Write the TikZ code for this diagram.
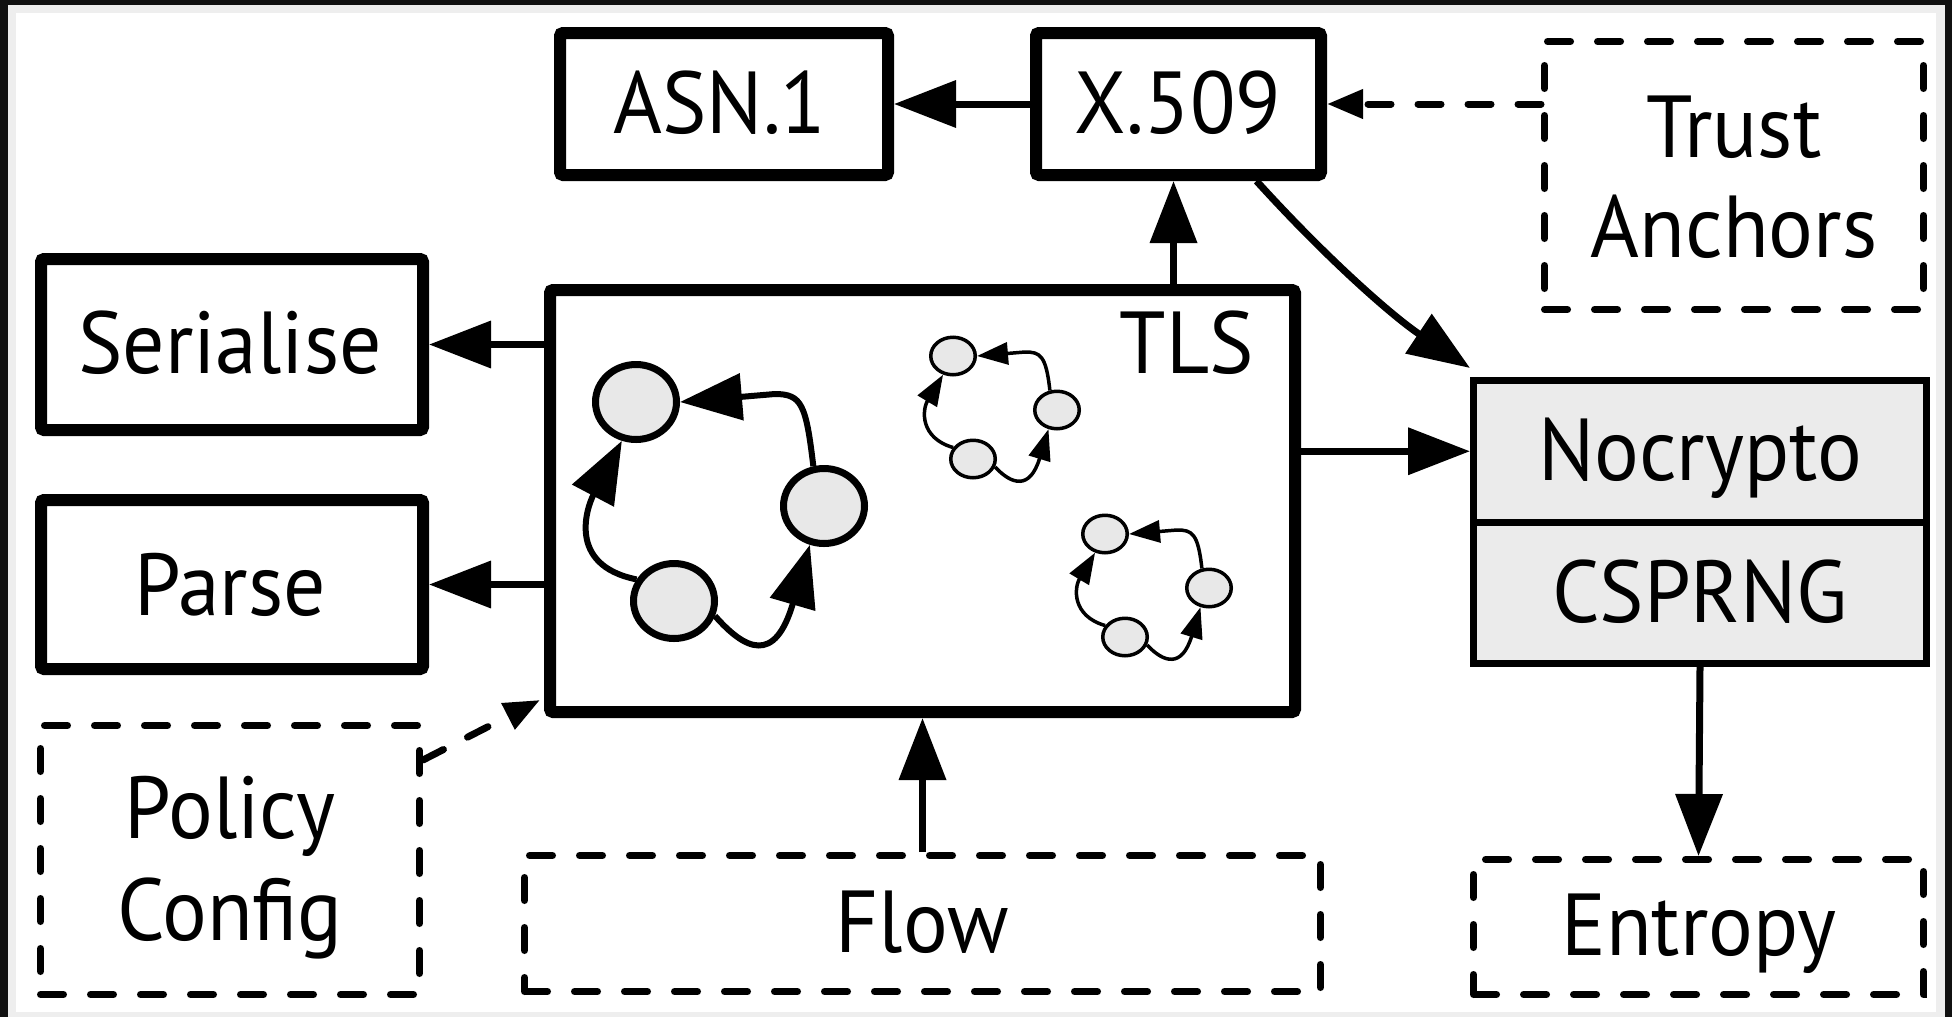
\documentclass[tikz,border=0pt]{standalone}
\usepackage{fontspec}
\setmainfont{PT Sans}[FakeStretch=0.95]
\usetikzlibrary{arrows.meta,calc,shapes.geometric}
\definecolor{frameDark}{HTML}{111111}
\definecolor{frameGray}{HTML}{EEEEEE}
\definecolor{boxGray}{HTML}{EBEBEB}
\definecolor{circGray}{HTML}{E8E8E8}
\begin{document}
\begin{tikzpicture}[x=0.5pt,y=-0.5pt,
  solidbox/.style={draw=black, line width=6pt, rectangle, rounded corners=1.5pt, inner sep=0pt, fill=white},
  dashbox/.style={draw=black, line width=3.5pt, rectangle, inner sep=0pt, line cap=round, dash pattern=on 11.5pt off 13.5pt},
  graybox/.style={draw=black, line width=3.5pt, rectangle, inner sep=0pt, fill=boxGray},
  lbl/.style={anchor=base, inner sep=0pt, font=\fontsize{44pt}{50pt}\selectfont},
  conn/.style={line width=3.5pt, -{Triangle[length=31pt,width=23pt]}},
  dconn/.style={line width=3.5pt, line cap=round, dash pattern=on 11.5pt off 13.5pt, -{Triangle[length=18pt,width=14pt]}},
  bigcirc/.style={ellipse, draw=black, line width=3.5pt, fill=circGray, inner sep=0pt, minimum width=40.5pt, minimum height=37.5pt},
  smallcirc/.style={ellipse, draw=black, line width=1.75pt, fill=circGray, inner sep=0pt, minimum width=22.25pt, minimum height=18.75pt},
  bigarr/.style={line width=3pt, -{Triangle[length=31pt,width=23pt]}},
  smallarr/.style={line width=1.75pt, -{Triangle[length=15.5pt,width=11pt]}},
]
\useasboundingbox (0,0) rectangle (1952,1017);
% frame
\fill[frameDark] (0,0) rectangle (1952,1017);
\fill[frameGray] (8,5) rectangle (1945,1017);
\fill[white] (16,13) rectangle (1936,1012);

% boxes
\node[solidbox, minimum width=164pt, minimum height=71pt] (asn1) at (724,104) {};
\node[solidbox, minimum width=142.5pt, minimum height=71pt] (x509) at (1178.5,104) {};
\node[solidbox, minimum width=191pt, minimum height=85.5pt] (ser) at (232,344.5) {};
\node[solidbox, minimum width=191pt, minimum height=84.5pt] (parse) at (232,584.5) {};
\node[solidbox, minimum width=372.5pt, minimum height=211pt] (tls) at (922.5,501) {};
\node[graybox, minimum width=226.5pt, minimum height=70.75pt] (noc) at (1700,451.25) {};
\node[graybox, minimum width=226.5pt, minimum height=70.75pt] (csp) at (1700,592.75) {};
\node[dashbox, minimum width=189.5pt, minimum height=134pt] (trust) at (1734,175.5) {};
\node[dashbox, minimum width=189.5pt, minimum height=134.5pt] (pol) at (230,860) {};
\node[dashbox, minimum width=398pt, minimum height=68pt] (flow) at (922.5,923.5) {};
\node[dashbox, minimum width=225pt, minimum height=67.5pt] (ent) at (1698.5,927) {};

% state machines inside TLS
\node[bigcirc] (c1) at (636,402) {};
\node[bigcirc] (c2) at (824,506) {};
\node[bigcirc] (c3) at (674,601) {};
\draw[bigarr] (c2.105) .. controls (806,405) and (802,394) .. (775,394) -- (c1.east);
\draw[bigarr] (c3.150) .. controls (565,565) and (588,505) .. (c1.250);
\draw[bigarr] (c3.-20) .. controls (745,650) and (775,665) .. (c2.250);

\node[smallcirc] (s1) at (953,356) {};
\node[smallcirc] (s2) at (1057,410) {};
\node[smallcirc] (s3) at (973,459) {};
\draw[smallarr] (s2.110) .. controls (1046,355) and (1040,352) .. (1025,352) -- (s1.east);
\draw[smallarr] (s3.150) .. controls (920,438) and (922,410) .. (s1.242);
\draw[smallarr] (s3.-20) .. controls (1012,485) and (1030,490) .. (s2.246);

\begin{scope}[shift={(152,178)}]
\node[smallcirc] (t1) at (953,356) {};
\node[smallcirc] (t2) at (1057,410) {};
\node[smallcirc] (t3) at (973,459) {};
\draw[smallarr] (t2.110) .. controls (1046,355) and (1040,352) .. (1025,352) -- (t1.east);
\draw[smallarr] (t3.150) .. controls (920,438) and (922,410) .. (t1.242);
\draw[smallarr] (t3.-20) .. controls (1012,485) and (1030,490) .. (t2.246);
\end{scope}

% connectors
\coordinate (xup) at ($(x509.south)+(-5,0)$);
\draw[conn] (x509.west) -- (asn1.east);
\draw[conn] (tls.north -| xup) -- (xup);
\draw[conn] (tls.west |- ser.east) -- (ser.east);
\draw[conn] (tls.west |- parse.east) -- (parse.east);
\draw[conn] (tls.east |- noc.west) -- (noc.west);
\draw[conn] ($(x509.south)+(78,0)$) .. controls (1330,262) and (1395,318) .. ($(noc.north west)+(0,-9)$);
\draw[dconn] (trust.west |- x509.east) -- (x509.east);
\draw[dconn] ($(pol.north east)+(0,38)$) -- ($(tls.south west)+(-4,-18)$);
\draw[conn] (flow.north) -- (tls.south);
\draw[conn] (csp.south) -- (ent.north);

% labels
\node[lbl] (asn1-t) at (720,133) {ASN.1};
\node[lbl] (x509-t) at (1178,133) {X.509};
\node[lbl] (ser-t) at (230,373) {Serialise};
\node[lbl] (parse-t) at (230,615) {Parse};
\node[lbl, anchor=base east] (tls-t) at (1254,373) {TLS};
\node[lbl] (trust-t1) at (1734,157) {Trust};
\node[lbl] (trust-t2) at (1734,257) {Anchors};
\node[lbl] (noc-t) at (1700,480) {Nocrypto};
\node[lbl] (csp-t) at (1700,622) {CSPRNG};
\node[lbl] (pol-t1) at (230,838) {Policy};
\node[lbl] (pol-t2) at (230,940) {Config};
\node[lbl] (flow-t) at (922,952) {Flow};
\node[lbl] (ent-t) at (1699,955) {Entropy};
\end{tikzpicture}
\end{document}
